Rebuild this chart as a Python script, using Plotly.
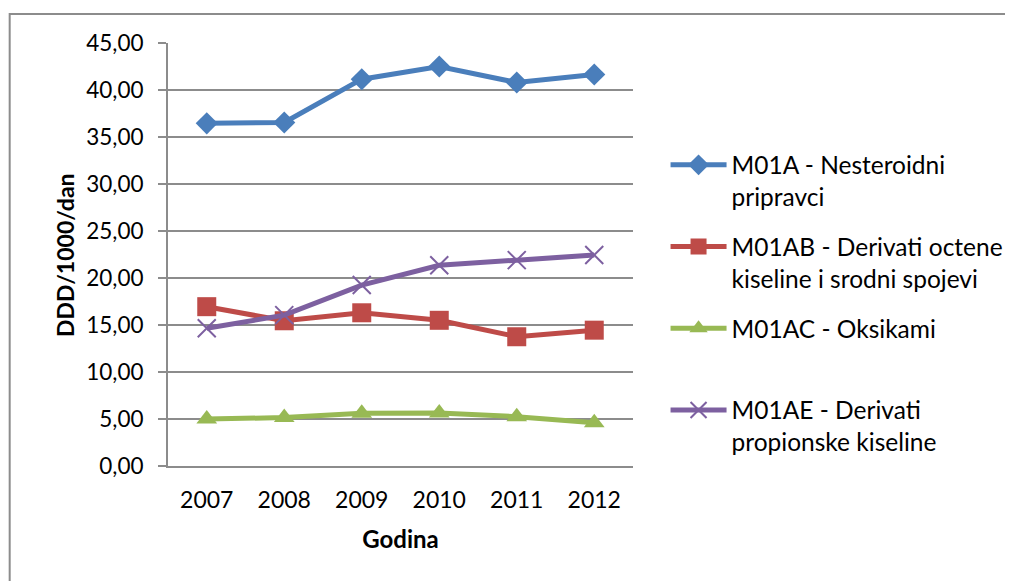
import plotly.graph_objects as go

# ---------------- DATA ----------------
godine = ["2007", "2008", "2009", "2010", "2011", "2012"]

m01a = [36.45, 36.55, 41.15, 42.5, 40.8, 41.65]
m01ab = [16.95, 15.45, 16.3, 15.5, 13.75, 14.45]
m01ac = [5.0, 5.15, 5.6, 5.65, 5.25, 4.6]
m01ae = [14.65, 16.05, 19.25, 21.35, 21.9, 22.45]

names = [
    "M01A - Nesteroidni<br>pripravci",
    "M01AB - Derivati octene<br>kiseline i srodni spojevi",
    "M01AC - Oksikami<br> ",
    "M01AE - Derivati<br>propionske kiseline",
]
colors = ["#4A7EBB", "#BE4B48", "#98B954", "#7D60A0"]
symbols = ["diamond", "square", "triangle-up", "x-thin"]
sizes = [17, 19, 18, 18]

FONT = "Lato"
GRID = "#8C8C8C"

# plot area in figure pixels (page adds an 8px body margin)
L, T, W, H = 160, 35, 467, 423

# ---------------- PLOT ----------------
fig = go.Figure()

for i, (vals, name, col, sym, sz) in enumerate(zip([m01a, m01ab, m01ac, m01ae], names, colors, symbols, sizes)):
    marker = dict(symbol=sym, size=sz, color=col, line=dict(width=0))
    if sym == "x-thin":
        marker = dict(symbol=sym, size=sz, color=col, line=dict(width=2, color=col))
    fig.add_trace(go.Scatter(
        x=godine, y=vals, name=name, mode="lines+markers",
        legendgroup="g%d" % i,
        line=dict(color=col, width=5),
        marker=marker,
    ))

fig.update_layout(
    width=1013,
    height=581,
    paper_bgcolor="white",
    plot_bgcolor="white",
    separators=", ",
    font=dict(family=FONT, size=22, color="black"),
    margin=dict(l=L, r=1013 - L - W, t=T, b=581 - T - H),
    showlegend=True,
    legend=dict(
        x=1.07, xanchor="left",
        y=0.765, yanchor="top",
        valign="top",
        tracegroupgap=15,
        itemwidth=56,
        font=dict(family=FONT, size=24.5, color="black"),
        bgcolor="rgba(0,0,0,0)",
    ),
    xaxis=dict(
        type="category",
        range=[-0.5, 5.5],
        automargin=False,
        showgrid=False,
        showline=True,
        linecolor=GRID,
        linewidth=2,
        ticks="",
        ticklabelstandoff=12,
        tickfont=dict(size=23),
        title=dict(text="<b>Godina</b>", standoff=20, font=dict(size=24)),
    ),
    yaxis=dict(
        range=[0, 45],
        tickvals=[0, 5, 10, 15, 20, 25, 30, 35, 40, 45],
        tickformat=".2f",
        automargin=False,
        showgrid=True,
        gridcolor=GRID,
        gridwidth=2,
        showline=True,
        linecolor=GRID,
        linewidth=2,
        ticks="outside",
        ticklen=8,
        tickwidth=2,
        tickcolor=GRID,
        ticklabelstandoff=10,
        tickfont=dict(size=22.5),
        zeroline=False,
    ),
    annotations=[
        dict(text="<b>DDD/1000/dan</b>", xref="paper", yref="paper",
             x=(56 - L) / W, y=0.5, xanchor="center", yanchor="middle",
             textangle=-90, showarrow=False, font=dict(size=23)),
    ],
    shapes=[
        dict(type="rect", xref="paper", yref="paper",
             x0=(1 - L) / W, x1=(1030 - L) / W,
             y0=(T + H - 600) / H, y1=(T + H - 6) / H,
             line=dict(color=GRID, width=2), layer="below"),
    ],
)

fig.write_html("out.html")
